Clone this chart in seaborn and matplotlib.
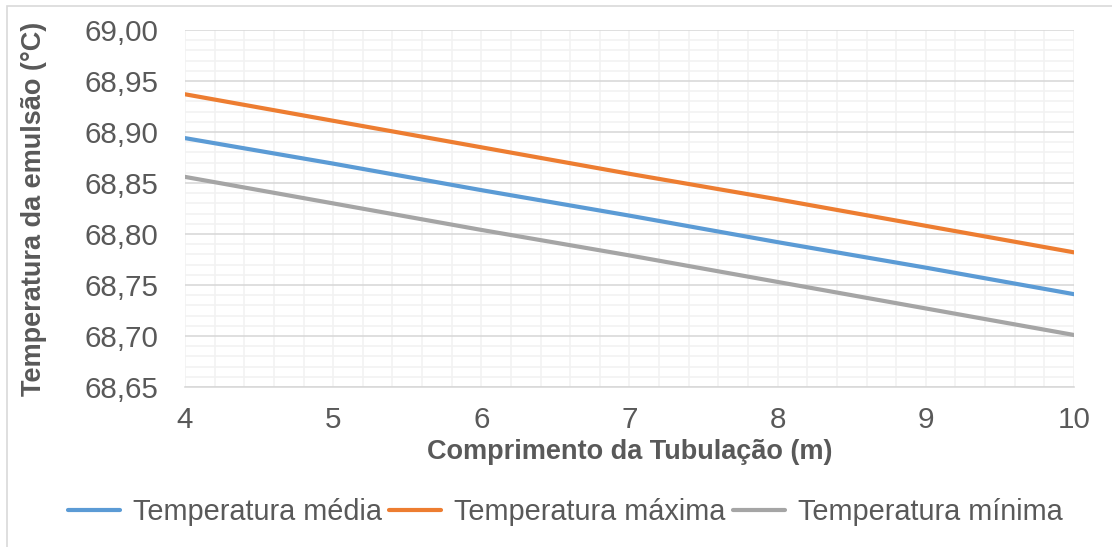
import matplotlib
matplotlib.use("Agg")
import matplotlib.pyplot as plt
import seaborn as sns
import pandas as pd
import numpy as np
from matplotlib.ticker import MultipleLocator, FuncFormatter
from matplotlib.patches import Rectangle

comprimento = [4, 5, 6, 7, 8, 9, 10]
temp_media = [68.894, 68.869, 68.843, 68.818, 68.792, 68.767, 68.741]
temp_maxima = [68.937, 68.911, 68.885, 68.859, 68.834, 68.808, 68.782]
temp_minima = [68.856, 68.830, 68.804, 68.779, 68.753, 68.727, 68.701]
series_names = ["Temperatura média", "Temperatura máxima", "Temperatura mínima"]
colors = ["#5B9BD5", "#ED7D31", "#A5A5A5"]

df = pd.DataFrame({
    "x": comprimento * 3,
    "y": temp_media + temp_maxima + temp_minima,
    "serie": [series_names[0]] * 7 + [series_names[1]] * 7 + [series_names[2]] * 7,
})

sns.set_theme(style="white")
plt.rcParams["font.family"] = ["Liberation Sans", "DejaVu Sans"]
text_color = "#595959"

W, H = 1112, 547
fig = plt.figure(figsize=(W / 100, H / 100), dpi=100)
ax = fig.add_axes([185 / W, 1 - 387 / H, (1074 - 185) / W, (387 - 30) / H])

sns.lineplot(data=df, x="x", y="y", hue="serie", palette=colors,
             hue_order=series_names, linewidth=3.0, ax=ax, legend=True,
             solid_capstyle="round")

ax.set_xlim(4, 10)
ax.set_ylim(68.65, 69.00)
ax.xaxis.set_major_locator(MultipleLocator(1))
ax.xaxis.set_minor_locator(MultipleLocator(0.2))
ax.yaxis.set_major_locator(MultipleLocator(0.05))
ax.yaxis.set_minor_locator(MultipleLocator(0.01))
ax.yaxis.set_major_formatter(FuncFormatter(lambda v, p: f"{v:.2f}".replace(".", ",")))
ax.grid(which="minor", color="#F2F2F2", linewidth=1.2, zorder=0)
ax.grid(which="major", axis="y", color="#D9D9D9", linewidth=1.2, zorder=0)
ax.grid(which="major", axis="x", color="#F2F2F2", linewidth=1.2, zorder=0)
ax.set_axisbelow(True)
for s in ["top", "right", "left"]:
    ax.spines[s].set_visible(False)
ax.spines["bottom"].set_color("#D9D9D9")
ax.spines["bottom"].set_linewidth(1.2)
ax.tick_params(axis="both", which="both", length=0, labelsize=21.3, colors=text_color)
ax.tick_params(axis="y", pad=19)
ax.tick_params(axis="x", pad=14)

ax.set_xlabel("Comprimento da Tubulação (m)", fontsize=19.5, fontweight="bold", color=text_color, labelpad=3.5)
ax.set_ylabel("Temperatura da emulsão (°C)", fontsize=19.5, fontweight="bold", color=text_color, labelpad=27)

handles, labels = ax.get_legend_handles_labels()
ax.get_legend().remove()
fig.legend(handles, labels, loc="center", bbox_to_anchor=(565 / W, 1 - 512 / H), ncol=3, frameon=False,
           fontsize=20.8, labelcolor=text_color, handlelength=1.8, handletextpad=0.45,
           columnspacing=0.25, borderpad=0, borderaxespad=0)

fig.patches.append(Rectangle((7 / W, -0.1), 1.2, 1 - 6 / H + 0.1, transform=fig.transFigure,
                             fill=False, edgecolor="#D9D9D9", linewidth=1.2))

fig.savefig("out.png", dpi=100)
